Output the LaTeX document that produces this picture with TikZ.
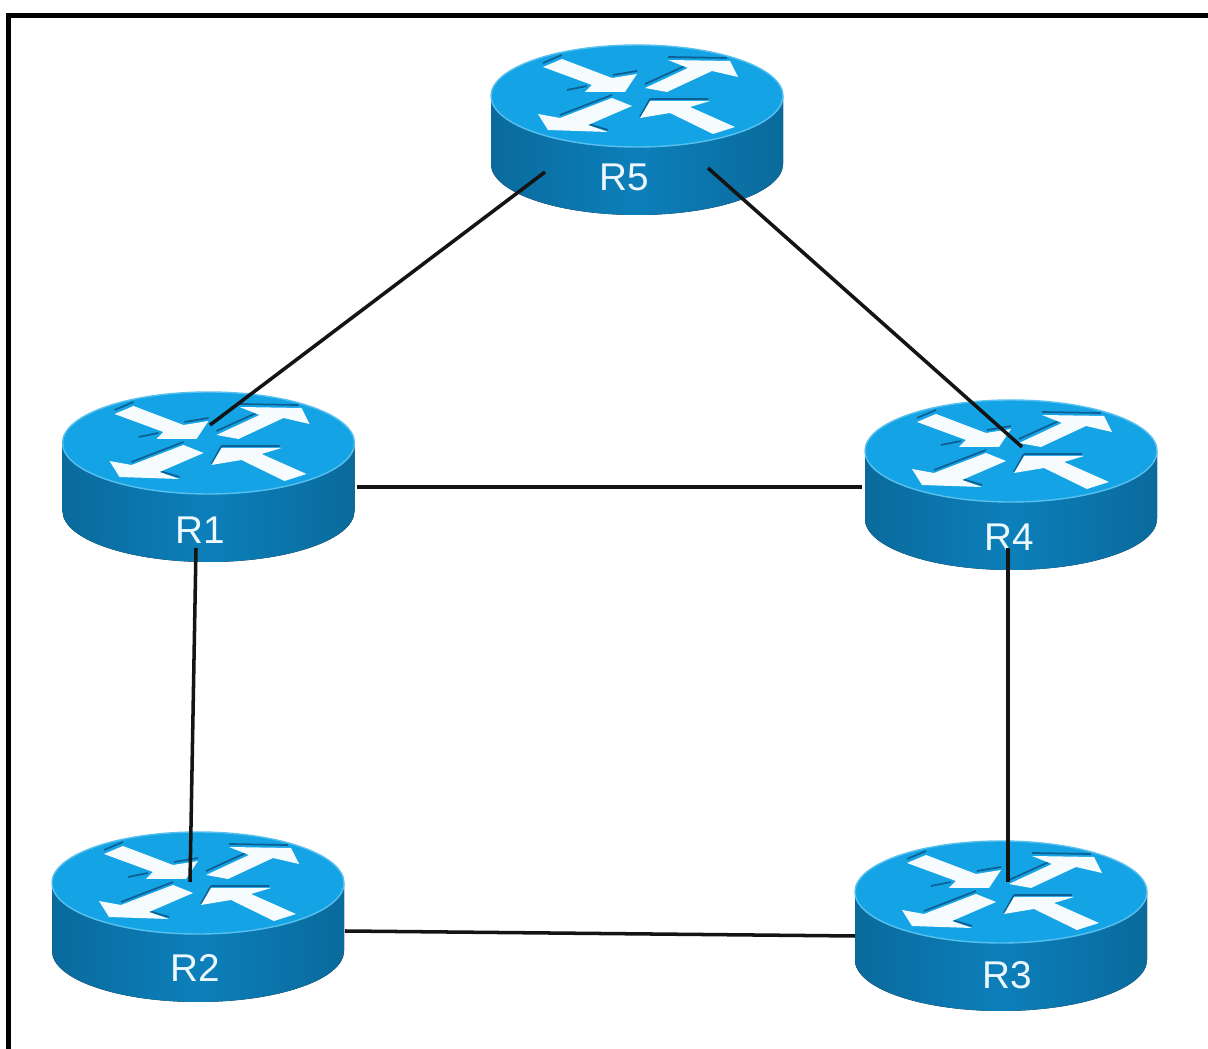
\documentclass[tikz,border=0pt]{standalone}
\usepackage{fontspec}
\setmainfont{Liberation Sans}
\definecolor{routertop}{HTML}{14A4E6}
\definecolor{routerrim}{HTML}{58C0EE}
\definecolor{routerside}{HTML}{0C7FBA}
\definecolor{routeredge}{HTML}{0A6A9C}
\definecolor{routershade}{HTML}{0E5F92}
\definecolor{linkblack}{HTML}{141414}
\tikzset{
  pics/router/.style={code={
    \fill [left color=routeredge,right color=routeredge,middle color=routerside]
      (-146,0) -- (-146,68) arc [start angle=180,end angle=0,x radius=146,y radius=51] -- (146,0) -- cycle;
    \draw [routerrim,fill=routertop,line width=0.4pt] (0,0) ellipse [x radius=146,y radius=51];
    %% dark edges under the arrows
    \draw [routershade,line width=0.5pt]
      (-94,-33) -- (-75,-41) (-70,-6) -- (-50,-10) (-24,-21) -- (0,-25)
      (8,-12) -- (50,-31) (31,-39) -- (90,-38)
      (-77,19) -- (-25,-1) (-49,28) -- (-29,34) (3,21) -- (13,3) (13,3) -- (71,3);
    \fill [arrowwhite] (-94,-29) -- (-75,-37) -- (-25,-18) -- (0,-22) -- (-12,-4) -- (-52,-4) -- (-45,-11) -- cycle;
    \fill [arrowwhite] (8,-8) -- (51,-28) -- (31,-36) -- (93,-35) -- (101,-19) -- (75,-25) -- (30,-4) -- cycle;
    \fill [arrowwhite] (-25,2) -- (-77,22) -- (-99,18) -- (-89,34) -- (-29,36) -- (-49,29) -- (-5,10) -- cycle;
    \fill [arrowwhite] (3,22) -- (13,5) -- (73,5) -- (53,11) -- (98,31) -- (76,38) -- (33,17) -- cycle;
  }},
  arrowwhite/.style={fill=white!96!routertop}
}
\begin{document}
\begin{tikzpicture}
[x=0.01cm,y=-0.01cm,
  framedecorate/.style={line width=1.55pt,black},%
  linkdecorate/.style={-,line width=1pt,linkblack},%
  labeldecorate/.style={inner sep=0pt,text=white!92!routertop,font=\fontsize{11}{11}\selectfont}]
\useasboundingbox (0,0) rectangle (1208,1049);
\fill [white] (0,0) rectangle (1208,1049);
\draw [framedecorate] (8.5,1049) -- (8.5,15.5) -- (1208,15.5);
%% routers
\foreach \nodename/\x/\y/\labelx/\labely in {
  R5/637/96/624/177, R1/208.5/443/200/530,
  R4/1011/451/1009/537, R2/198/883/195/968,
  R3/1001/892/1007/975}
{
  \pic at (\x,\y) {router};
  \node (\nodename) at (\labelx,\labely) [labeldecorate] {\nodename};
}
%% link ends
\foreach \portname/\x/\y in {
  a51/545/172, a15/210/425, a54/708/168, a45/1022/447,
  a14/357/487, a41/862/487, a12/196/548, a21/190/882,
  a43/1008/548, a34/1008/882, a23/345/931, a32/855/936}
{
  \coordinate (\portname) at (\x,\y);
}
\foreach \from/\to in {a51/a15, a54/a45, a14/a41, a12/a21, a43/a34, a23/a32}
  \draw [linkdecorate] (\from) -- (\to);
\end{tikzpicture}
\end{document}
